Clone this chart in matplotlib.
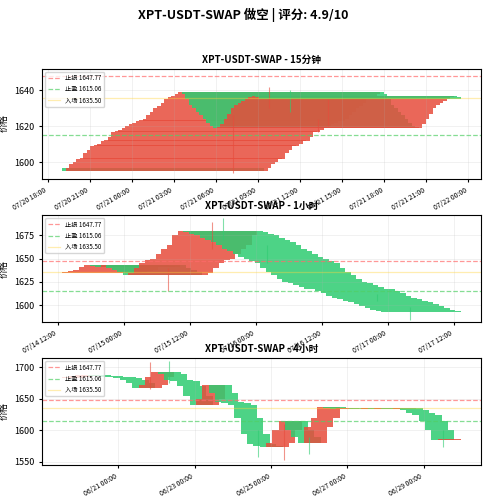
import matplotlib
matplotlib.use("Agg")
import matplotlib.pyplot as plt
import matplotlib.dates as mdates
import pandas as pd
import numpy as np

plt.rcParams['font.family'] = ['Noto Sans CJK SC', 'DejaVu Sans']

stop_loss = 1647.77
take_profit = 1615.06
entry = 1635.50

close_15m = [1595, 1597, 1599, 1600, 1602, 1602, 1605, 1607, 1609, 1609, 1610, 1612, 1612, 1614, 1617,
             1617, 1618, 1619, 1620, 1621, 1622, 1623, 1623, 1624, 1626, 1628, 1630, 1631, 1633, 1635,
             1636, 1637, 1638, 1639, 1638, 1635, 1632, 1630, 1628, 1626, 1624, 1622, 1620, 1619, 1619,
             1621, 1624, 1627, 1630, 1632, 1633, 1634, 1635, 1636, 1637, 1636, 1635]
open0_15m = 1597
start_15m = "2025-07-21 02:15"
wick_15m = {20: (1594, 1626), 30: (1630, 1642), 36: (1628, 1640), 44: (1617, 1624), 47: (1620, 1635)}

close_1h = [1636, 1637, 1638, 1641, 1643, 1642, 1641, 1643, 1640, 1638, 1636, 1633, 1635, 1640, 1645,
            1649, 1650, 1655, 1660, 1665, 1675, 1680, 1679, 1677, 1675, 1672, 1670, 1668, 1665, 1660,
            1658, 1655, 1652, 1650, 1648, 1645, 1640, 1636, 1632, 1628, 1625, 1624, 1622, 1620, 1618,
            1617, 1615, 1613, 1610, 1608, 1607, 1605, 1603, 1601, 1599, 1597, 1595, 1594, 1593]
open0_1h = 1635
start_1h = "2025-07-14 20:00"
wick_1h = {12: (1615, 1640), 20: (1660, 1690), 22: (1670, 1694), 30: (1645, 1665), 50: (1605, 1612), 56: (1584, 1598)}

close_4h = [1685, 1686, 1688, 1688, 1687, 1686, 1685, 1685, 1684, 1680, 1675, 1668, 1672, 1685, 1692,
            1690, 1680, 1678, 1670, 1655, 1640, 1650, 1672, 1660, 1645, 1644, 1640, 1620, 1595, 1578,
            1575, 1574, 1580, 1600, 1615, 1600, 1590, 1580, 1605, 1620, 1637, 1635, 1634, 1636, 1635,
            1634, 1634, 1635, 1634, 1635, 1634, 1634, 1635, 1633, 1628, 1625, 1615, 1600, 1585, 1586]
open0_4h = 1683
start_4h = "2025-06-19 20:00"
wick_4h = {12: (1665, 1708), 15: (1675, 1710), 29: (1558, 1600), 33: (1553, 1610), 37: (1563, 1590), 58: (1573, 1600)}

RED = '#e74c3c'
GREEN = '#2ecc71'

fig = plt.figure(figsize=(4.87, 5.0), dpi=100)
fig.suptitle("XPT-USDT-SWAP 做空 | 评分: 4.9/10", fontsize=9, fontweight='bold', y=0.985)

specs = [
    ("XPT-USDT-SWAP - 15分钟", close_15m, open0_15m, start_15m, "15min", wick_15m,
     mdates.HourLocator(byhour=[0, 3, 6, 9, 12, 15, 18, 21]), (1591, 1652), [0.087, 0.643, 0.9, 0.22]),
    ("XPT-USDT-SWAP - 1小时", close_1h, open0_1h, start_1h, "1h", wick_1h,
     mdates.HourLocator(byhour=[0, 12]), (1582, 1697), [0.087, 0.356, 0.9, 0.214]),
    ("XPT-USDT-SWAP - 4小时", close_4h, open0_4h, start_4h, "4h", wick_4h,
     mdates.DayLocator(interval=2), (1545, 1715), [0.087, 0.07, 0.9, 0.214]),
]

for title, closes, o0, start, freq, wicks, loc, ylim, rect in specs:
    ax = fig.add_axes(rect)
    closes = np.array(closes, dtype=float)
    opens = np.concatenate([[o0], closes[:-1]])
    times = pd.date_range(start, periods=len(closes), freq=freq)
    x = mdates.date2num(times)
    for i, (xi, o, c) in enumerate(zip(x, opens, closes)):
        col = RED if c >= o else GREEN
        if i in wicks:
            lo, hi = wicks[i]
            ax.vlines(xi, lo, hi, color=col, lw=0.8, alpha=0.6)
        h = c - o
        if abs(h) < 0.6:
            h = 0.6 if h >= 0 else -0.6
        ax.bar(xi, h, bottom=o, width=0.6, color=col, alpha=0.85, linewidth=0)
    ax.axhline(stop_loss, color='#ff6b6b', ls='--', lw=0.9, alpha=0.7, label=f'止损 {stop_loss:.2f}')
    ax.axhline(take_profit, color='#51cf66', ls='--', lw=0.9, alpha=0.7, label=f'止盈 {take_profit:.2f}')
    ax.axhline(entry, color='#ffd43b', ls='-', lw=0.9, alpha=0.4, label=f'入场 {entry:.2f}')
    ax.set_ylim(*ylim)
    ax.set_title(title, fontsize=7, fontweight='bold', pad=4)
    ax.set_ylabel("价格", fontsize=6.5)
    ax.xaxis.set_major_locator(loc)
    ax.xaxis.set_major_formatter(mdates.DateFormatter('%m/%d %H:%M'))
    ax.tick_params(axis='y', labelsize=6.5, length=2)
    ax.tick_params(axis='x', labelsize=5, length=2)
    for lab in ax.get_xticklabels():
        lab.set_rotation(30)
        lab.set_ha('right')
    ax.grid(True, alpha=0.3, lw=0.4)
    ax.legend(loc='upper left', fontsize=4.5, framealpha=0.8)

plt.savefig("out.png", dpi=100)
